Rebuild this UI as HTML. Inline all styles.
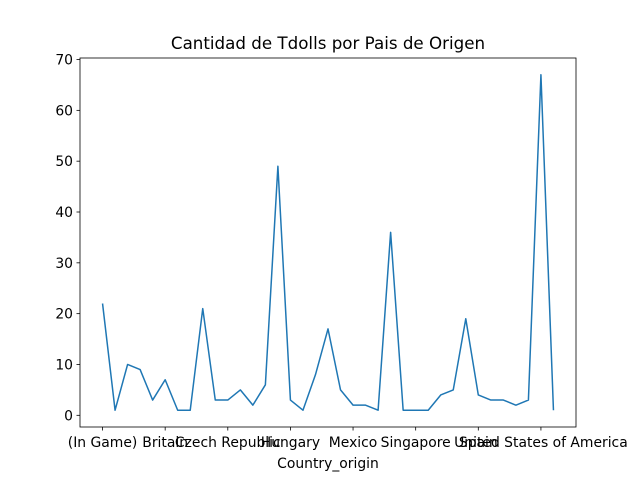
<!DOCTYPE html>
<html><head><meta charset="utf-8"><style>
html,body{margin:0;padding:0;background:#fff;}
svg{display:block;font-family:"DejaVu Sans","Liberation Sans",sans-serif;}
</style></head><body>
<svg id="chart" width="640" height="480">
<rect x="0" y="0" width="640" height="480" fill="#fff"/>
</svg>
<script>
const categories=["(In Game)","c1","c2","c3","c4","Britain","c6","c7","c8","c9","Czech Republic","c11","c12","c13","c14","Hungary","c16","c17","c18","c19","Mexico","c21","c22","c23","c24","Singapore","c26","c27","c28","c29","Spain","c31","c32","c33","c34","United States of America","c36"];
const counts=[22,1,10,9,3,7,1,1,21,3,3,5,2,6,49,3,1,8,17,5,2,2,1,36,1,1,1,4,5,19,4,3,3,2,3,67,1];
const xTickIdx=[0,5,10,15,20,25,30,35];
const yTicks=[0,10,20,30,40,50,60,70];
const svg=document.getElementById('chart');
const NS='http://www.w3.org/2000/svg';
const L=80,R=576,T=58,B=427;
const n=counts.length;
const xmin=-(n-1)*0.05,xmax=(n-1)*1.05;
const dmin=Math.min(...counts),dmax=Math.max(...counts),pad=(dmax-dmin)*0.05;
const ymin=dmin-pad,ymax=dmax+pad;
const X=i=>L+(i-xmin)/(xmax-xmin)*(R-L);
const Y=v=>B-(v-ymin)/(ymax-ymin)*(B-T);
function mk(tag,attrs,text){const e=document.createElementNS(NS,tag);for(const k in attrs)e.setAttribute(k,attrs[k]);if(text!==undefined)e.textContent=text;svg.appendChild(e);return e;}
let t=mk('text',{x:328,y:49,'text-anchor':'middle','font-size':16.7,fill:'#000'},'Cantidad de Tdolls por Pais de Origen');


let p=mk('polyline',{points:counts.map((v,i)=>X(i)+','+Y(v)).join(' '),fill:'none',stroke:'#1f77b4','stroke-width':1.5,'stroke-linejoin':'round'});


let fr=mk('rect',{x:L,y:T,width:R-L,height:B-T,fill:'none',stroke:'#000','stroke-width':0.8});


yTicks.forEach(v=>{
  const y=Y(v);
  let l=mk('line',{x1:L-3.5,x2:L,y1:y,y2:y,stroke:'#000','stroke-width':0.8});
  
  
  let tx=mk('text',{x:L-7,y:y+5,'text-anchor':'end','font-size':13.9,fill:'#000'},String(v));
  
  
});
xTickIdx.forEach(i=>{
  const x=X(i);
  let l=mk('line',{x1:x,x2:x,y1:B,y2:B+3.5,stroke:'#000','stroke-width':0.8});
  
  
  let tx=mk('text',{x:x,y:B+20,'text-anchor':'middle','font-size':13.9,fill:'#000'},categories[i]);
  
  
});
let xt=mk('text',{x:328,y:468,'text-anchor':'middle','font-size':13.9,fill:'#000'},'Country_origin');


</script>
</body></html>
